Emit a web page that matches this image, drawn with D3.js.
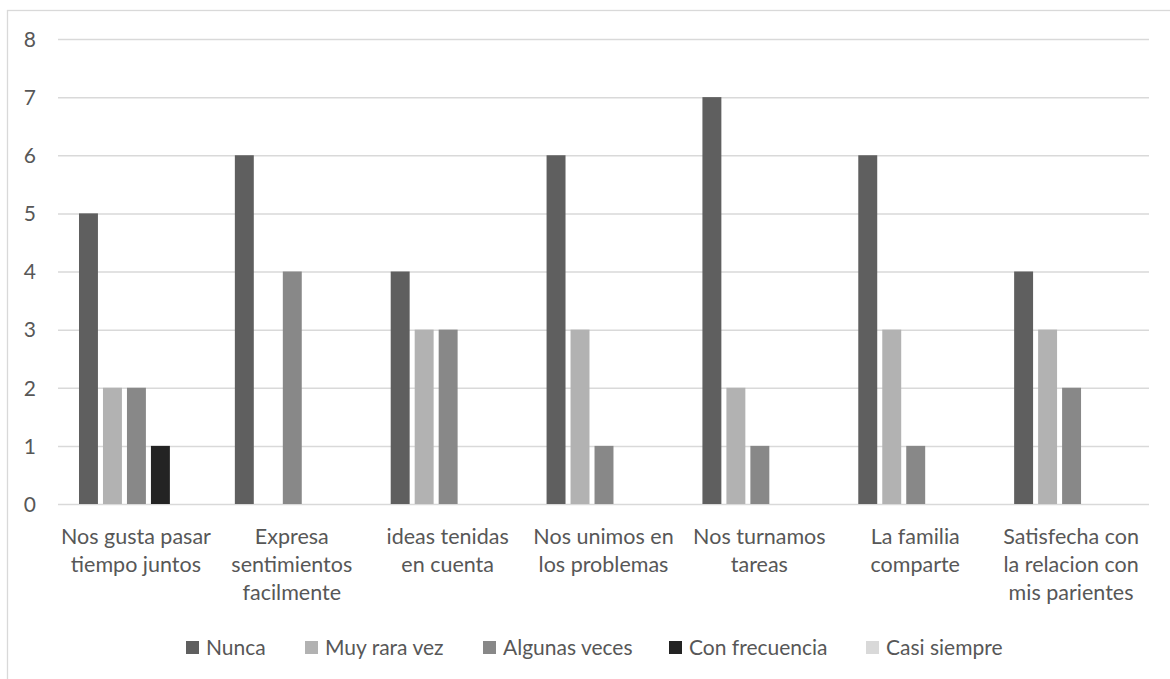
<!DOCTYPE html>
<html>
<head>
<meta charset="utf-8">
<script src="https://cdn.jsdelivr.net/npm/d3@7"></script>
<style>
  html, body { margin: 0; padding: 0; background: #fff; }
  svg { display: block; }
  text { font-family: Lato, "Open Sans", sans-serif; fill: #575757; }
</style>
</head>
<body>
<svg id="chart" width="1170" height="679"></svg>
<script>
const categories = [
  "Nos gusta pasar\ntiempo juntos",
  "Expresa\nsentimientos\nfacilmente",
  "ideas tenidas\nen cuenta",
  "Nos unimos en\nlos problemas",
  "Nos turnamos\ntareas",
  "La familia\ncomparte",
  "Satisfecha con\nla relacion con\nmis parientes"
];
const seriesNames = ["Nunca", "Muy rara vez", "Algunas veces", "Con frecuencia", "Casi siempre"];
const nunca        = [5, 6, 4, 6, 7, 6, 4];
const muyRaraVez   = [2, 0, 3, 3, 2, 3, 3];
const algunasVeces = [2, 4, 3, 1, 1, 1, 2];
const conFrecuencia= [1, 0, 0, 0, 0, 0, 0];
const casiSiempre  = [0, 0, 0, 0, 0, 0, 0];
const yTicks = [0, 1, 2, 3, 4, 5, 6, 7, 8];
const colors = ["#5f5f5f", "#b2b2b2", "#888888", "#232323", "#d9d9d9"];

const seriesValues = [nunca, muyRaraVez, algunasVeces, conFrecuencia, casiSiempre];

const svg = d3.select("#chart");
const W = 1170, H = 679;
const plot = { left: 58, right: 1149, top: 39, bottom: 504 };

// chart border
svg.append("rect")
  .attr("x", 7.5).attr("y", 10.5)
  .attr("width", W + 20).attr("height", H + 20)
  .attr("fill", "none").attr("stroke", "#d9d9d9").attr("stroke-width", 1.3);

const y = d3.scaleLinear().domain([0, 8]).range([plot.bottom, plot.top]);
const x0 = d3.scaleBand().domain(d3.range(categories.length)).range([plot.left, plot.right]).padding(0);
const groupPad = 21 / 155.9;
const x1 = d3.scaleBand().domain(d3.range(seriesNames.length))
  .range([x0.bandwidth() * groupPad, x0.bandwidth() * (1 - 20 / 155.9)])
  .paddingInner(0.21).paddingOuter(0);

// gridlines
const yAxis = d3.axisLeft(y).tickValues(yTicks).tickSize(-(plot.right - plot.left)).tickPadding(22).tickFormat(d3.format("d"));
const gy = svg.append("g").attr("transform", `translate(${plot.left},0)`).call(yAxis);
gy.select(".domain").remove();
gy.selectAll(".tick line").attr("stroke", "#d9d9d9").attr("stroke-width", 1.5);
gy.selectAll(".tick text").attr("font-size", 21).attr("fill", "#575757").attr("x", -22).attr("dy", "0.35em")
  .style("font-family", "Lato, sans-serif");

// bars
const groups = svg.append("g").selectAll("g")
  .data(categories.map((c, i) => i))
  .join("g")
  .attr("transform", i => `translate(${x0(i)},0)`);

groups.selectAll("rect")
  .data(i => seriesValues.map((vals, s) => ({ s, v: vals[i] })).filter(d => d.v > 0))
  .join("rect")
  .attr("x", d => x1(d.s))
  .attr("width", x1.bandwidth())
  .attr("y", d => y(d.v))
  .attr("height", d => y(0) - y(d.v))
  .attr("fill", d => colors[d.s]);

// x axis labels
const xAxis = d3.axisBottom(x0).tickSize(0).tickFormat("");
const gx = svg.append("g").attr("transform", `translate(0,${plot.bottom})`).call(xAxis);
gx.select(".domain").remove();
gx.selectAll(".tick").each(function(i) {
  const t = d3.select(this).append("text")
    .attr("text-anchor", "middle")
    .attr("font-size", 21.5)
    .attr("fill", "#575757");
  categories[i].split("\n").forEach((line, k) => {
    t.append("tspan").attr("x", 0).attr("y", 40 + k * 28).text(line);
  });
});

// legend
const legendX = [186, 305, 483, 669, 866];
const legend = svg.append("g");
seriesNames.forEach((name, s) => {
  const g = legend.append("g").attr("transform", `translate(${legendX[s]},641)`);
  g.append("rect").attr("width", 13).attr("height", 13).attr("fill", colors[s]);
  g.append("text").attr("x", 20).attr("y", 7).attr("dy", "0.35em")
    .attr("font-size", 21).text(name);
});
</script>
</body>
</html>
